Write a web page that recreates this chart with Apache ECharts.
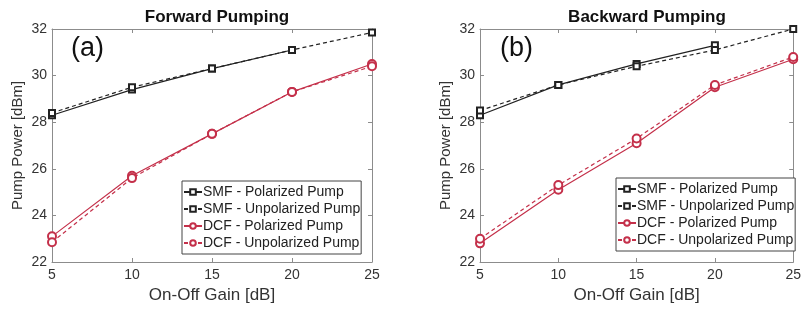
<!DOCTYPE html>
<html>
<head>
<meta charset="utf-8">
<script src="https://cdn.jsdelivr.net/npm/echarts@6/dist/echarts.min.js"></script>
<style>
  html, body { margin: 0; padding: 0; background: #fff; }
  #chartBox { width: 804px; height: 309px; }
</style>
</head>
<body>
<div id="chartBox"></div>
<script>
// x values (On-Off Gain, dB)
var gains = [5, 10, 15, 20, 25]
var xTicks = [5, 10, 15, 20, 25]
var yTicks = [22, 24, 26, 28, 30, 32]

var seriesNames = ['SMF - Polarized Pump', 'SMF - Unpolarized Pump', 'DCF - Polarized Pump', 'DCF - Unpolarized Pump']
var panelTitles = ['Forward Pumping', 'Backward Pumping']
var panelTags = ['(a)', '(b)']

// (a) forward pumping, pump power in dBm
var fwdSmfPol = [28.3, 29.4, 30.3, 31.1, null]
var fwdSmfUnpol = [28.4, 29.5, 30.3, 31.1, 31.85]
var fwdDcfPol = [23.1, 25.7, 27.5, 29.3, 30.5]
var fwdDcfUnpol = [22.85, 25.6, 27.5, 29.3, 30.4]

// (b) backward pumping
var bwdSmfPol = [28.3, 29.6, 30.5, 31.3, null]
var bwdSmfUnpol = [28.5, 29.6, 30.4, 31.1, 32.0]
var bwdDcfPol = [22.8, 25.1, 27.1, 29.5, 30.7]
var bwdDcfUnpol = [23.0, 25.3, 27.3, 29.6, 30.8]

var black = '#222222'
var red = '#c4304a'
var boxColor = '#8c8c8c'
var font = 'Liberation Sans, Arial, sans-serif'

function pairs (vals) {
  return gains.map(function (g, i) { return [g, vals[i]] })
}

var grids = [
  { left: 52, top: 29, width: 320, height: 234 },
  { left: 480, top: 29, width: 320, height: 234 }
]

var xAxis = []
var yAxis = []
grids.forEach(function (g, i) {
  // bottom axis with labels
  xAxis.push({
    type: 'value', gridIndex: i, min: xTicks[0], max: xTicks[xTicks.length - 1], interval: 5,
    name: 'On-Off Gain [dB]', nameLocation: 'middle', nameGap: 25,
    nameTextStyle: { fontFamily: font, fontSize: 17, color: '#333' },
    axisLine: { lineStyle: { color: boxColor, width: 1 } },
    axisTick: { inside: true, length: 4, lineStyle: { color: boxColor } },
    axisLabel: { fontFamily: font, fontSize: 14, color: '#333', margin: 6 },
    splitLine: { show: false }
  })
  // top mirror axis
  xAxis.push({
    type: 'value', gridIndex: i, position: 'top', min: xTicks[0], max: xTicks[xTicks.length - 1], interval: 5,
    axisLine: { lineStyle: { color: boxColor, width: 1 } },
    axisTick: { inside: true, length: 4, lineStyle: { color: boxColor } },
    axisLabel: { show: false },
    splitLine: { show: false }
  })
  yAxis.push({
    type: 'value', gridIndex: i, min: yTicks[0], max: yTicks[yTicks.length - 1], interval: 2,
    name: 'Pump Power [dBm]', nameLocation: 'middle', nameGap: 27,
    nameTextStyle: { fontFamily: font, fontSize: 15, color: '#333' },
    axisLine: { show: true, lineStyle: { color: boxColor, width: 1 } },
    axisTick: { show: true, inside: true, length: 4, lineStyle: { color: boxColor } },
    axisLabel: { fontFamily: font, fontSize: 14, color: '#333', margin: 5 },
    splitLine: { show: false }
  })
  yAxis.push({
    type: 'value', gridIndex: i, position: 'right', min: yTicks[0], max: yTicks[yTicks.length - 1], interval: 2,
    axisLine: { show: true, lineStyle: { color: boxColor, width: 1 } },
    axisTick: { show: true, inside: true, length: 4, lineStyle: { color: boxColor } },
    axisLabel: { show: false },
    splitLine: { show: false }
  })
})

function makeSeries (panel, name, vals, color, dashed, symbol, size) {
  return {
    name: name,
    type: 'line',
    xAxisIndex: panel * 2,
    yAxisIndex: panel * 2,
    data: pairs(vals),
    symbol: symbol,
    symbolSize: size,
    showAllSymbol: true,
    connectNulls: false,
    animation: false,
    itemStyle: { color: color, borderColor: color, borderWidth: 1 },
    lineStyle: { color: color, width: 1.2, type: dashed ? [4, 3] : 'solid' },
    emphasis: { disabled: true }
  }
}

var series = [
  makeSeries(0, seriesNames[0], fwdSmfPol, black, false, 'emptyRect', 6),
  makeSeries(0, seriesNames[1], fwdSmfUnpol, black, true, 'emptyRect', 6),
  makeSeries(0, seriesNames[2], fwdDcfPol, red, false, 'emptyCircle', 8),
  makeSeries(0, seriesNames[3], fwdDcfUnpol, red, true, 'emptyCircle', 8),
  makeSeries(1, seriesNames[0], bwdSmfPol, black, false, 'emptyRect', 6),
  makeSeries(1, seriesNames[1], bwdSmfUnpol, black, true, 'emptyRect', 6),
  makeSeries(1, seriesNames[2], bwdDcfPol, red, false, 'emptyCircle', 8),
  makeSeries(1, seriesNames[3], bwdDcfUnpol, red, true, 'emptyCircle', 8)
]

function makeLegend (left, top) {
  return {
    data: seriesNames,
    orient: 'vertical',
    left: left,
    top: top,
    itemWidth: 18,
    itemHeight: 7,
    itemGap: 3,
    padding: [4, 1, 4, 1],
    backgroundColor: '#fff',
    borderColor: '#444',
    borderWidth: 1,
    selectedMode: false,
    textStyle: { fontFamily: font, fontSize: 14, color: '#222', padding: [0, 0, 0, -4] }
  }
}

var myChart = echarts.init(document.getElementById('chartBox'), null, { renderer: 'canvas' })
myChart.setOption({
  animation: false,
  title: [
    { text: panelTitles[0], left: 212, top: 4, textAlign: 'center', textStyle: { fontFamily: font, fontSize: 17, fontWeight: 'bold', color: '#111' } },
    { text: panelTitles[1], left: 642, top: 4, textAlign: 'center', textStyle: { fontFamily: font, fontSize: 17, fontWeight: 'bold', color: '#111' } },
    { text: panelTags[0], left: 66, top: 30, textStyle: { fontFamily: font, fontSize: 27, fontWeight: 'normal', color: '#111' } },
    { text: panelTags[1], left: 495, top: 30, textStyle: { fontFamily: font, fontSize: 27, fontWeight: 'normal', color: '#111' } }
  ],
  grid: grids,
  xAxis: xAxis,
  yAxis: yAxis,
  legend: [makeLegend(182, 181), makeLegend(616, 178)],
  series: series
})
</script>
</body>
</html>
